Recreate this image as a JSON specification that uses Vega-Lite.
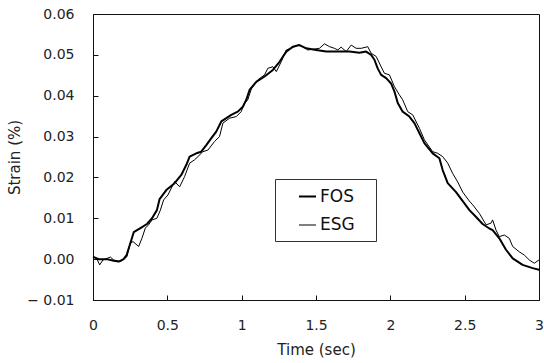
{
  "$schema": "https://vega.github.io/schema/vega-lite/v6.json",
  "width": 446,
  "height": 286,
  "autosize": {"type": "none"},
  "padding": {"left": 93, "top": 14, "right": 5, "bottom": 63},
  "background": "white",
  "config": {
    "font": "DejaVu Sans",
    "view": {"stroke": "#111", "strokeWidth": 1},
    "axis": {
      "grid": false,
      "domainColor": "#111",
      "tickColor": "#111",
      "tickSize": -5,
      "labelFlush": false,
      "labelFontSize": 14,
      "titleFontSize": 15,
      "titleFontWeight": "normal",
      "labelColor": "#222",
      "titleColor": "#222"
    }
  },
  "data": {
    "values": [
      {"series": "FOS", "t": 0.005, "v": 0.0005},
      {"series": "FOS", "t": 0.038, "v": 0.0},
      {"series": "FOS", "t": 0.092, "v": 0.0},
      {"series": "FOS", "t": 0.139, "v": -0.0004},
      {"series": "FOS", "t": 0.173, "v": -0.0006},
      {"series": "FOS", "t": 0.206, "v": 0.0},
      {"series": "FOS", "t": 0.226, "v": 0.001},
      {"series": "FOS", "t": 0.251, "v": 0.0039},
      {"series": "FOS", "t": 0.274, "v": 0.0066},
      {"series": "FOS", "t": 0.319, "v": 0.0076},
      {"series": "FOS", "t": 0.363, "v": 0.0086},
      {"series": "FOS", "t": 0.397, "v": 0.01},
      {"series": "FOS", "t": 0.43, "v": 0.012},
      {"series": "FOS", "t": 0.448, "v": 0.0147},
      {"series": "FOS", "t": 0.493, "v": 0.0169},
      {"series": "FOS", "t": 0.549, "v": 0.0186},
      {"series": "FOS", "t": 0.594, "v": 0.0206},
      {"series": "FOS", "t": 0.628, "v": 0.0231},
      {"series": "FOS", "t": 0.65, "v": 0.0251},
      {"series": "FOS", "t": 0.695, "v": 0.0259},
      {"series": "FOS", "t": 0.728, "v": 0.0263},
      {"series": "FOS", "t": 0.762, "v": 0.0279},
      {"series": "FOS", "t": 0.796, "v": 0.0296},
      {"series": "FOS", "t": 0.829, "v": 0.0312},
      {"series": "FOS", "t": 0.863, "v": 0.0337},
      {"series": "FOS", "t": 0.897, "v": 0.0345},
      {"series": "FOS", "t": 0.93, "v": 0.0353},
      {"series": "FOS", "t": 0.974, "v": 0.0361},
      {"series": "FOS", "t": 1.008, "v": 0.0373},
      {"series": "FOS", "t": 1.031, "v": 0.039},
      {"series": "FOS", "t": 1.053, "v": 0.0414},
      {"series": "FOS", "t": 1.098, "v": 0.0434},
      {"series": "FOS", "t": 1.154, "v": 0.0447},
      {"series": "FOS", "t": 1.21, "v": 0.0463},
      {"series": "FOS", "t": 1.255, "v": 0.0483},
      {"series": "FOS", "t": 1.3, "v": 0.0508},
      {"series": "FOS", "t": 1.344, "v": 0.052},
      {"series": "FOS", "t": 1.389, "v": 0.0524},
      {"series": "FOS", "t": 1.434, "v": 0.0516},
      {"series": "FOS", "t": 1.501, "v": 0.0512},
      {"series": "FOS", "t": 1.569, "v": 0.0508},
      {"series": "FOS", "t": 1.636, "v": 0.0508},
      {"series": "FOS", "t": 1.725, "v": 0.0508},
      {"series": "FOS", "t": 1.792, "v": 0.0505},
      {"series": "FOS", "t": 1.837, "v": 0.0508},
      {"series": "FOS", "t": 1.871, "v": 0.05},
      {"series": "FOS", "t": 1.893, "v": 0.0488},
      {"series": "FOS", "t": 1.915, "v": 0.0467},
      {"series": "FOS", "t": 1.938, "v": 0.0451},
      {"series": "FOS", "t": 1.972, "v": 0.0443},
      {"series": "FOS", "t": 2.005, "v": 0.043},
      {"series": "FOS", "t": 2.028, "v": 0.041},
      {"series": "FOS", "t": 2.05, "v": 0.0382},
      {"series": "FOS", "t": 2.083, "v": 0.0361},
      {"series": "FOS", "t": 2.128, "v": 0.0349},
      {"series": "FOS", "t": 2.162, "v": 0.0333},
      {"series": "FOS", "t": 2.196, "v": 0.0308},
      {"series": "FOS", "t": 2.229, "v": 0.0284},
      {"series": "FOS", "t": 2.285, "v": 0.0259},
      {"series": "FOS", "t": 2.33, "v": 0.0247},
      {"series": "FOS", "t": 2.352, "v": 0.0218},
      {"series": "FOS", "t": 2.386, "v": 0.0186},
      {"series": "FOS", "t": 2.442, "v": 0.0164},
      {"series": "FOS", "t": 2.487, "v": 0.0142},
      {"series": "FOS", "t": 2.532, "v": 0.012},
      {"series": "FOS", "t": 2.577, "v": 0.0103},
      {"series": "FOS", "t": 2.621, "v": 0.0086},
      {"series": "FOS", "t": 2.666, "v": 0.0075},
      {"series": "FOS", "t": 2.688, "v": 0.0071},
      {"series": "FOS", "t": 2.733, "v": 0.0051},
      {"series": "FOS", "t": 2.778, "v": 0.0023},
      {"series": "FOS", "t": 2.823, "v": 0.0002},
      {"series": "FOS", "t": 2.89, "v": -0.0014},
      {"series": "FOS", "t": 2.957, "v": -0.0022},
      {"series": "FOS", "t": 3.0, "v": -0.0026},
      {"series": "ESG", "t": 0.005, "v": 0.0006},
      {"series": "ESG", "t": 0.027, "v": 0.0},
      {"series": "ESG", "t": 0.045, "v": -0.0014},
      {"series": "ESG", "t": 0.067, "v": -0.0002},
      {"series": "ESG", "t": 0.117, "v": 0.0005},
      {"series": "ESG", "t": 0.139, "v": -0.0002},
      {"series": "ESG", "t": 0.184, "v": -0.0006},
      {"series": "ESG", "t": 0.228, "v": 0.0006},
      {"series": "ESG", "t": 0.251, "v": 0.0039},
      {"series": "ESG", "t": 0.269, "v": 0.0043},
      {"series": "ESG", "t": 0.307, "v": 0.0031},
      {"series": "ESG", "t": 0.329, "v": 0.0051},
      {"series": "ESG", "t": 0.352, "v": 0.0076},
      {"series": "ESG", "t": 0.374, "v": 0.0084},
      {"series": "ESG", "t": 0.397, "v": 0.0096},
      {"series": "ESG", "t": 0.43, "v": 0.01},
      {"series": "ESG", "t": 0.453, "v": 0.012},
      {"series": "ESG", "t": 0.475, "v": 0.0145},
      {"series": "ESG", "t": 0.504, "v": 0.0157},
      {"series": "ESG", "t": 0.549, "v": 0.019},
      {"series": "ESG", "t": 0.583, "v": 0.0177},
      {"series": "ESG", "t": 0.616, "v": 0.0202},
      {"series": "ESG", "t": 0.65, "v": 0.0235},
      {"series": "ESG", "t": 0.683, "v": 0.0243},
      {"series": "ESG", "t": 0.706, "v": 0.0251},
      {"series": "ESG", "t": 0.739, "v": 0.0263},
      {"series": "ESG", "t": 0.773, "v": 0.0267},
      {"series": "ESG", "t": 0.818, "v": 0.0288},
      {"series": "ESG", "t": 0.851, "v": 0.03},
      {"series": "ESG", "t": 0.874, "v": 0.0333},
      {"series": "ESG", "t": 0.919, "v": 0.0345},
      {"series": "ESG", "t": 0.964, "v": 0.0349},
      {"series": "ESG", "t": 0.997, "v": 0.0361},
      {"series": "ESG", "t": 1.019, "v": 0.0382},
      {"series": "ESG", "t": 1.04, "v": 0.0389},
      {"series": "ESG", "t": 1.067, "v": 0.0419},
      {"series": "ESG", "t": 1.109, "v": 0.0439},
      {"series": "ESG", "t": 1.154, "v": 0.0451},
      {"series": "ESG", "t": 1.176, "v": 0.0467},
      {"series": "ESG", "t": 1.21, "v": 0.0471},
      {"series": "ESG", "t": 1.233, "v": 0.0459},
      {"series": "ESG", "t": 1.266, "v": 0.0483},
      {"series": "ESG", "t": 1.3, "v": 0.0512},
      {"series": "ESG", "t": 1.333, "v": 0.0516},
      {"series": "ESG", "t": 1.378, "v": 0.0524},
      {"series": "ESG", "t": 1.411, "v": 0.052},
      {"series": "ESG", "t": 1.445, "v": 0.0512},
      {"series": "ESG", "t": 1.523, "v": 0.0516},
      {"series": "ESG", "t": 1.557, "v": 0.0527},
      {"series": "ESG", "t": 1.591, "v": 0.052},
      {"series": "ESG", "t": 1.624, "v": 0.0516},
      {"series": "ESG", "t": 1.647, "v": 0.0512},
      {"series": "ESG", "t": 1.669, "v": 0.0519},
      {"series": "ESG", "t": 1.703, "v": 0.0508},
      {"series": "ESG", "t": 1.737, "v": 0.0524},
      {"series": "ESG", "t": 1.77, "v": 0.0516},
      {"series": "ESG", "t": 1.804, "v": 0.0516},
      {"series": "ESG", "t": 1.848, "v": 0.052},
      {"series": "ESG", "t": 1.871, "v": 0.0504},
      {"series": "ESG", "t": 1.905, "v": 0.0496},
      {"series": "ESG", "t": 1.938, "v": 0.0471},
      {"series": "ESG", "t": 1.96, "v": 0.0455},
      {"series": "ESG", "t": 1.994, "v": 0.0451},
      {"series": "ESG", "t": 2.028, "v": 0.0422},
      {"series": "ESG", "t": 2.061, "v": 0.0402},
      {"series": "ESG", "t": 2.083, "v": 0.039},
      {"series": "ESG", "t": 2.117, "v": 0.0361},
      {"series": "ESG", "t": 2.151, "v": 0.0353},
      {"series": "ESG", "t": 2.196, "v": 0.032},
      {"series": "ESG", "t": 2.229, "v": 0.0292},
      {"series": "ESG", "t": 2.285, "v": 0.0263},
      {"series": "ESG", "t": 2.319, "v": 0.0259},
      {"series": "ESG", "t": 2.352, "v": 0.0251},
      {"series": "ESG", "t": 2.386, "v": 0.0235},
      {"series": "ESG", "t": 2.419, "v": 0.021},
      {"series": "ESG", "t": 2.453, "v": 0.0189},
      {"series": "ESG", "t": 2.487, "v": 0.0164},
      {"series": "ESG", "t": 2.532, "v": 0.0142},
      {"series": "ESG", "t": 2.554, "v": 0.0133},
      {"series": "ESG", "t": 2.599, "v": 0.0112},
      {"series": "ESG", "t": 2.644, "v": 0.0084},
      {"series": "ESG", "t": 2.677, "v": 0.0088},
      {"series": "ESG", "t": 2.688, "v": 0.0096},
      {"series": "ESG", "t": 2.711, "v": 0.0071},
      {"series": "ESG", "t": 2.733, "v": 0.0055},
      {"series": "ESG", "t": 2.767, "v": 0.0059},
      {"series": "ESG", "t": 2.8, "v": 0.0051},
      {"series": "ESG", "t": 2.823, "v": 0.0031},
      {"series": "ESG", "t": 2.867, "v": 0.0018},
      {"series": "ESG", "t": 2.901, "v": 0.001},
      {"series": "ESG", "t": 2.935, "v": -0.0002},
      {"series": "ESG", "t": 2.968, "v": -0.001},
      {"series": "ESG", "t": 3.0, "v": -0.0002}
    ]
  },
  "mark": {"type": "line", "color": "black", "strokeJoin": "round", "strokeCap": "round"},
  "encoding": {
    "x": {
      "field": "t",
      "type": "quantitative",
      "scale": {"domain": [0, 3], "nice": false, "zero": false},
      "axis": {
        "title": "Time (sec)",
        "values": [0, 0.5, 1, 1.5, 2, 2.5, 3],
        "format": "~g",
        "labelPadding": 23,
        "titlePadding": 10
      }
    },
    "y": {
      "field": "v",
      "type": "quantitative",
      "scale": {"domain": [-0.01, 0.06], "nice": false, "zero": false},
      "axis": {
        "title": "Strain (%)",
        "values": [-0.01, 0, 0.01, 0.02, 0.03, 0.04, 0.05, 0.06],
        "labelExpr": "datum.value < 0 ? '− ' + format(-datum.value, '.2f') : format(datum.value, '.2f')",
        "labelPadding": 24,
        "titlePadding": 4
      }
    },
    "strokeWidth": {
      "field": "series",
      "type": "nominal",
      "scale": {"domain": ["FOS", "ESG"], "range": [2, 1]},
      "legend": {
        "orient": "none",
        "legendX": 182,
        "legendY": 165,
        "title": null,
        "symbolType": "stroke",
        "symbolSize": 289,
        "symbolStrokeColor": "black",
        "symbolOffset": 15,
        "labelOffset": 3,
        "labelFontSize": 17,
        "labelColor": "#111",
        "labelExpr": "datum.label + '\u2800'",
        "rowPadding": 11,
        "padding": 8,
        "strokeColor": "#333",
        "fillColor": "white"
      }
    }
  }
}
